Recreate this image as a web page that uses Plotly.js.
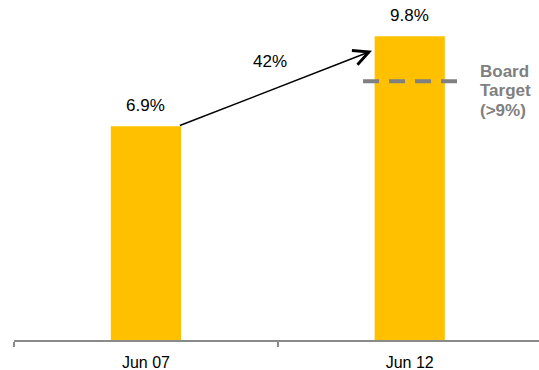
<!DOCTYPE html>
<html>
<head>
<meta charset="utf-8">
<script src="https://cdn.plot.ly/plotly-3.0.1.min.js"></script>
<style>html,body{margin:0;padding:0;background:#fff;}#chart{width:539px;height:370px;}</style>
</head>
<body>
<div id="chart"></div>
<script>
// Data
const categories = ["Jun 07", "Jun 12"];
const values = [6.9, 9.8];
const valueLabels = ["6.9%", "9.8%"];
const growthLabel = "42%";
const targetLevel = 8.35;          // where the dashed target line is drawn
const targetLines = ["Board", "Target", "(>9%)"];

const FONT = '"Liberation Sans", Arial, sans-serif';
const barColor = "#FFC000";
const gray = "#808080";
const barWidth = 0.266;

const bars = {
  type: "bar",
  x: categories,
  y: values,
  width: barWidth,
  marker: {color: barColor, line: {width: 0}},
  hoverinfo: "none"
};

const annotations = [];
values.forEach((v, i) => {
  annotations.push({
    x: i, y: v, xref: "x", yref: "y",
    text: valueLabels[i], showarrow: false,
    yanchor: "bottom", yshift: 9,
    font: {family: FONT, size: 17, color: "#000"}
  });
});
// growth arrow from bar 1 to bar 2
annotations.push({
  xref: "x", yref: "y", axref: "x", ayref: "y",
  x: 1 - barWidth / 2 - 0.01, y: values[1] - 0.47,
  ax: barWidth / 2 - 0.01, ay: values[0],
  text: "", showarrow: true,
  arrowhead: 5, arrowsize: 2.0, arrowwidth: 1.5, arrowcolor: "#000",
  standoff: 0, startstandoff: 0
});
annotations.push({
  x: 0.47, y: (values[0] + values[1]) / 2 + 0.65, xref: "x", yref: "y",
  text: growthLabel, showarrow: false,
  font: {family: FONT, size: 17, color: "#000"}
});
// board target label
targetLines.forEach((t, k) => {
  annotations.push({
    x: 1.26, y: targetLevel, xref: "x", yref: "y",
    xanchor: "left", yanchor: "middle",
    yshift: 10 - 19.5 * k,
    text: "<b>" + t + "</b>", showarrow: false,
    font: {family: FONT, size: 17, color: gray}
  });
});

const layout = {
  width: 539, height: 370,
  margin: {l: 14, r: 0, t: 0, b: 30, pad: 0},
  paper_bgcolor: "#fff", plot_bgcolor: "#fff",
  showlegend: false,
  xaxis: {
    type: "category",
    range: [-0.5, 1.49],
    showline: true, linecolor: "#8a8a8a", linewidth: 2,
    ticks: "outside", tickson: "boundaries", ticklen: 5, tickwidth: 2, tickcolor: "#8a8a8a",
    ticklabelstandoff: 7,
    showgrid: false, zeroline: false,
    tickfont: {family: FONT, size: 16, color: "#000"}
  },
  yaxis: {
    range: [0, 10.97],
    visible: false, showgrid: false, zeroline: false
  },
  shapes: [{
    type: "line", xref: "x", yref: "y",
    x0: 0.823, x1: 1.185, y0: targetLevel, y1: targetLevel,
    line: {color: gray, width: 4, dash: "16px,10px"}
  }],
  annotations: annotations
};

Plotly.newPlot("chart", [bars], layout, {staticPlot: true, displayModeBar: false});
</script>
</body>
</html>
